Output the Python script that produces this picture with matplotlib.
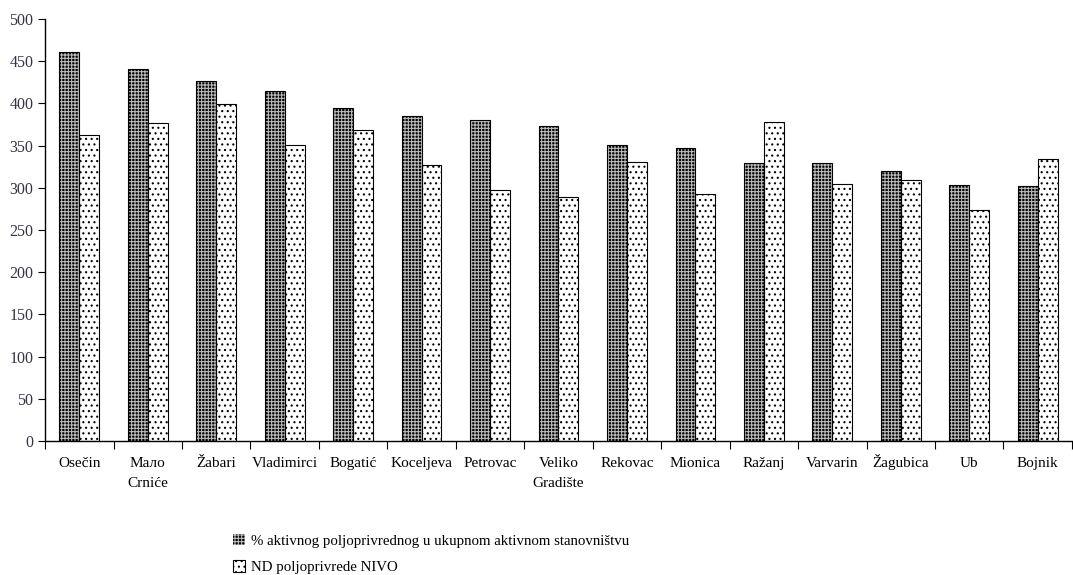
import matplotlib
matplotlib.use("Agg")
import matplotlib.pyplot as plt
import matplotlib.transforms as mtransforms
import numpy as np
from matplotlib.patches import Patch

plt.rcParams['font.family'] = ['Liberation Serif', 'DejaVu Serif']
plt.rcParams['hatch.linewidth'] = 0.8

categories = ["Osečin", "Мало\nCrniće", "Žabari", "Vladimirci", "Bogatić", "Koceljeva",
              "Petrovac", "Veliko\nGradište", "Rekovac", "Mionica", "Ražanj", "Varvarin",
              "Žagubica", "Ub", "Bojnik"]
active_pct = [461, 441, 427, 415, 395, 385, 380, 373, 351, 347, 329, 329, 320, 303, 302]
nd_level = [362, 377, 399, 351, 369, 327, 297, 289, 331, 293, 378, 305, 309, 274, 334]
series_names = ["% aktivnog poljoprivrednog u ukupnom aktivnom stanovništvu",
                "ND poljoprivrede NIVO"]
yticks = [0, 50, 100, 150, 200, 250, 300, 350, 400, 450, 500]

fig = plt.figure(figsize=(10.73, 5.75), dpi=100)
ax = fig.add_axes([0.042, 0.233, 0.957, 0.734])

x = np.arange(len(categories))
w = 0.29
dark_hatch = '+++++'
light_hatch = '...'
# dark bars
ax.bar(x - w/2, active_pct, w, color='black', hatch=dark_hatch, edgecolor='#bbbbbb', linewidth=0, zorder=2)
ax.bar(x - w/2, active_pct, w, fill=False, edgecolor='black', linewidth=0.8, zorder=3)
# light bars
ax.bar(x + w/2, nd_level, w, color='white', hatch=light_hatch, edgecolor='black', linewidth=0.8, zorder=2)

ax.set_xlim(-0.5, len(categories) - 0.5)
ax.set_ylim(0, 500)
ax.set_yticks(yticks)
ax.set_xticks(np.arange(len(categories) + 1) - 0.5)
ax.set_xticklabels([])
ax.tick_params(axis='x', which='major', length=6, direction='out', color='black')
ax.tick_params(axis='y', length=5, direction='out', labelsize=11.5, labelcolor='#333344')

# category labels placed by baseline under the axis
trans = ax.get_xaxis_transform()
for xi, lab in zip(x, categories):
    for k, line in enumerate(lab.split("\n")):
        off = mtransforms.offset_copy(trans, fig=fig, x=0, y=-(26 + 20 * k) * 72 / 100, units='points')
        ax.text(xi, 0, line, transform=off, ha='center', va='baseline', fontsize=11)

for s in ['top', 'right']:
    ax.spines[s].set_visible(False)
ax.spines['left'].set_linewidth(1)
ax.spines['bottom'].set_linewidth(1)

handles = [Patch(facecolor='black', hatch=dark_hatch, edgecolor='#bbbbbb', linewidth=0),
           Patch(facecolor='white', hatch=light_hatch, edgecolor='black', linewidth=0.8)]
fig.legend(handles, series_names, loc='upper left', bbox_to_anchor=(0.212, 0.082),
           frameon=False, fontsize=10.7, handlelength=0.8, handleheight=0.8,
           handletextpad=0.35, labelspacing=0.85, borderaxespad=0)

fig.savefig("out.png", dpi=100)
